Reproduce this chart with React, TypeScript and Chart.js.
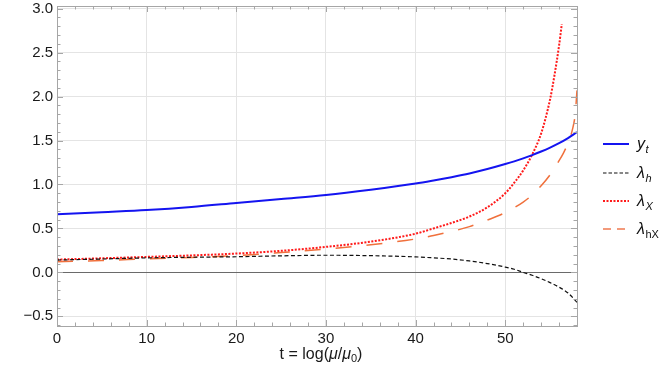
import React, { useEffect, useRef } from "react";
import { Chart, registerables } from "chart.js";

Chart.register(...registerables);

// ---- data ----
const T_MAIN = [0, 5, 10, 15, 20, 25, 30, 35, 40, 42, 44, 46, 48, 50, 51, 52, 53, 54, 55, 56, 57, 58];
const Y_T = [0.66, 0.685, 0.71, 0.745, 0.79, 0.835, 0.88, 0.94, 1.01, 1.045, 1.083, 1.125, 1.175, 1.232, 1.263, 1.297, 1.334, 1.375, 1.42, 1.47, 1.528, 1.595];
const LAMBDA_H = [0.14, 0.152, 0.165, 0.172, 0.178, 0.188, 0.195, 0.19, 0.176, 0.165, 0.152, 0.13, 0.1, 0.06, 0.035, 0.0, -0.033, -0.072, -0.117, -0.168, -0.235, -0.34];

const T_X = [0, 5, 10, 15, 20, 25, 30, 35, 40, 42, 44, 46, 48, 50, 51, 52, 53, 54, 55, 55.5, 56, 56.3];
const LAMBDA_X = [0.146, 0.16, 0.176, 0.193, 0.214, 0.245, 0.29, 0.35, 0.44, 0.5, 0.562, 0.635, 0.74, 0.9, 1.02, 1.16, 1.34, 1.58, 1.97, 2.25, 2.58, 2.82];

const T_HX = [0, 5, 10, 15, 20, 25, 30, 35, 40, 42, 44, 46, 48, 50, 52, 53, 54, 55, 56, 56.5, 57, 57.5, 57.8, 58];
const LAMBDA_HX = [0.12, 0.135, 0.153, 0.17, 0.19, 0.225, 0.266, 0.315, 0.38, 0.42, 0.465, 0.52, 0.595, 0.68, 0.8, 0.88, 0.985, 1.11, 1.27, 1.36, 1.47, 1.63, 1.8, 2.07];

const X_TICKS = [0, 10, 20, 30, 40, 50];
const Y_TICKS = [-0.5, 0, 0.5, 1, 1.5, 2, 2.5, 3];
const X_MIN = 0, X_MAX = 58, Y_MIN = -0.61, Y_MAX = 3.03;
const X_MINOR_STEP = 2;
const Y_MINOR_FIRST = -0.6;
const Y_MINOR_STEP = 0.1;

const LEGEND = [
  { main: "y", sub: "t", subItalic: true, color: "#1414f0", dash: [] as number[], width: 2 },
  { main: "λ", sub: "h", subItalic: true, color: "#111111", dash: [3.5, 2], width: 1.2 },
  { main: "λ", sub: "X", subItalic: true, color: "#ff1a1a", dash: [2, 1.5], width: 2 },
  { main: "λ", sub: "hX", subItalic: false, color: "#f07a50", dash: [8, 6], width: 1.6 },
];

const FONT = "'Liberation Sans', Arial, sans-serif";

const toPts = (xs: number[], ys: number[]) => xs.map((x, i) => ({ x, y: ys[i] }));

const framePlugin = {
  id: "frameAndLegend",
  beforeDatasetsDraw(chart: any) {
    const { ctx, chartArea: a, scales } = chart;
    const ys = scales.y;
    ctx.save();
    ctx.strokeStyle = "#6a6a6a";
    ctx.lineWidth = 1;
    const y0 = Math.round(ys.getPixelForValue(0)) + 0.5;
    ctx.beginPath();
    ctx.moveTo(a.left, y0);
    ctx.lineTo(a.right, y0);
    ctx.stroke();
    ctx.restore();
  },
  afterDraw(chart: any) {
    const { ctx, chartArea: a, scales } = chart;
    const xs = scales.x, ys = scales.y;
    ctx.save();
    ctx.strokeStyle = "#a6a6a6";
    ctx.lineWidth = 1;
    ctx.strokeRect(Math.round(a.left) + 0.5, Math.round(a.top) + 0.5, Math.round(a.right - a.left), Math.round(a.bottom - a.top));
    ctx.beginPath();
    for (let v = X_MIN; v <= X_MAX + 1e-9; v += X_MINOR_STEP) {
      const px = Math.round(xs.getPixelForValue(v)) + 0.5;
      const major = X_TICKS.some((t) => Math.abs(t - v) < 1e-6);
      const len = major ? 6 : 3.5;
      ctx.moveTo(px, a.bottom);
      ctx.lineTo(px, a.bottom - len);
      ctx.moveTo(px, a.top);
      ctx.lineTo(px, a.top + len);
    }
    for (let i = 0; ; i++) {
      const v = Y_MINOR_FIRST + i * Y_MINOR_STEP;
      if (v > Y_MAX + 1e-9) break;
      const py = Math.round(ys.getPixelForValue(v)) + 0.5;
      const major = Y_TICKS.some((t) => Math.abs(t - v) < 1e-6);
      const len = major ? 6 : 3.5;
      ctx.moveTo(a.left, py);
      ctx.lineTo(a.left + len, py);
      ctx.moveTo(a.right, py);
      ctx.lineTo(a.right - len, py);
    }
    ctx.stroke();

    // x-axis title: t = log(μ/μ0)
    ctx.fillStyle = "#1a1a1a";
    ctx.textBaseline = "alphabetic";
    const fs = 16;
    const parts: { t: string; f: string; dy: number }[] = [
      { t: "t = log(", f: `${fs}px ${FONT}`, dy: 0 },
      { t: "μ", f: `italic ${fs}px ${FONT}`, dy: 0 },
      { t: "/", f: `${fs}px ${FONT}`, dy: 0 },
      { t: "μ", f: `italic ${fs}px ${FONT}`, dy: 0 },
      { t: "0", f: `${Math.round(fs * 0.7)}px ${FONT}`, dy: 3 },
      { t: ")", f: `${fs}px ${FONT}`, dy: 0 },
    ];
    let total = 0;
    for (const p of parts) { ctx.font = p.f; total += ctx.measureText(p.t).width; }
    let x = (a.left + a.right) / 2 - total / 2 + 4;
    const base = 359;
    for (const p of parts) {
      ctx.font = p.f;
      ctx.fillText(p.t, x, base + p.dy);
      x += ctx.measureText(p.t).width;
    }

    // legend
    const ly = [144, 173, 201, 229];
    LEGEND.forEach((item, i) => {
      const y = ly[i];
      ctx.strokeStyle = item.color;
      ctx.lineWidth = item.width;
      ctx.setLineDash(item.dash);
      ctx.beginPath();
      ctx.moveTo(603, y);
      ctx.lineTo(629, y);
      ctx.stroke();
      ctx.setLineDash([]);
      ctx.fillStyle = "#111";
      ctx.textBaseline = "alphabetic";
      ctx.font = `italic 16px ${FONT}`;
      ctx.fillText(item.main, 637, y + 5);
      const w = ctx.measureText(item.main).width;
      ctx.font = `${item.subItalic ? "italic " : ""}11px ${FONT}`;
      ctx.fillText(item.sub, 637 + w + 0.5, y + 9);
    });
    ctx.restore();
  },
};

export default function App() {
  const ref = useRef<HTMLCanvasElement | null>(null);
  useEffect(() => {
    if (!ref.current) return;
    const chart = new Chart(ref.current, {
      type: "line",
      data: {
        datasets: [
          { label: "y_t", data: toPts(T_MAIN, Y_T), borderColor: "#1414f0", borderWidth: 2, pointRadius: 0, cubicInterpolationMode: "monotone", fill: false },
          { label: "λ_h", data: toPts(T_MAIN, LAMBDA_H), borderColor: "#111111", borderWidth: 1.2, borderDash: [4, 2.5], pointRadius: 0, cubicInterpolationMode: "monotone", fill: false },
          { label: "λ_X", data: toPts(T_X, LAMBDA_X), borderColor: "#ff1a1a", borderWidth: 2, borderDash: [2, 1.5], pointRadius: 0, cubicInterpolationMode: "monotone", fill: false },
          { label: "λ_hX", data: toPts(T_HX, LAMBDA_HX), borderColor: "#f0703c", borderWidth: 1.5, borderDash: [16, 15], pointRadius: 0, cubicInterpolationMode: "monotone", fill: false },
        ],
      },
      options: {
        animation: false,
        responsive: false,
        devicePixelRatio: 1,
        layout: { padding: { top: 6, right: 87, left: 0, bottom: 0 } },
        plugins: { legend: { display: false }, tooltip: { enabled: false } },
        scales: {
          x: {
            type: "linear",
            min: X_MIN,
            max: X_MAX,
            afterBuildTicks: (s: any) => { s.ticks = X_TICKS.map((v) => ({ value: v })); },
            afterFit: (s: any) => { s.height = 45; s.paddingLeft = 0; s.paddingRight = 0; },
            ticks: { color: "#1a1a1a", font: { family: FONT, size: 15 }, padding: 4, maxRotation: 0, autoSkip: false, callback: (v: any) => String(v) },
            grid: { color: "#e4e4e4", lineWidth: 1, drawTicks: false },
            border: { display: false },
          },
          y: {
            type: "linear",
            min: Y_MIN,
            max: Y_MAX,
            afterBuildTicks: (s: any) => { s.ticks = Y_TICKS.map((v) => ({ value: v })); },
            afterFit: (s: any) => { s.width = 57; s.paddingTop = 0; s.paddingBottom = 0; },
            ticks: {
              color: "#1a1a1a",
              font: { family: FONT, size: 15 },
              padding: 4,
              autoSkip: false,
              callback: (v: any) => (v < 0 ? "−" + Math.abs(v).toFixed(1) : Number(v).toFixed(1)),
            },
            grid: { color: "#e4e4e4", lineWidth: 1, drawTicks: false },
            border: { display: false },
          },
        },
      },
      plugins: [framePlugin],
    } as any);
    return () => chart.destroy();
  }, []);
  return (
    <div style={{ position: "absolute", left: 0, top: 0, width: 664, height: 371, background: "#fff" }}>
      <canvas ref={ref} width={664} height={371} style={{ display: "block", width: 664, height: 371 }} />
    </div>
  );
}
